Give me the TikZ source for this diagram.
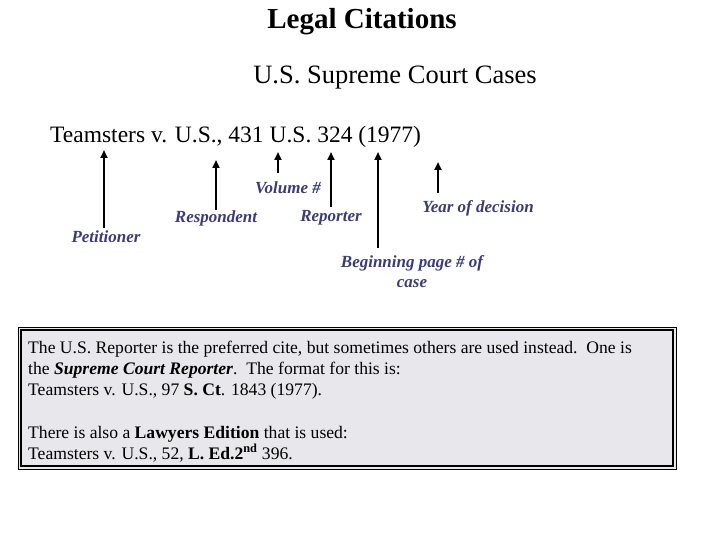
\documentclass[tikz,border=0pt]{standalone}
\usepackage{fontspec}
\setmainfont{Liberation Serif}
\usetikzlibrary{arrows.meta}
\definecolor{lab}{HTML}{3B3A7A}
\definecolor{boxfill}{HTML}{E8E8EC}
\begin{document}
\begin{tikzpicture}[x=1pt,y=-1pt,
  lbl/.style={text=lab,font=\fontsize{17}{18}\selectfont\bfseries\itshape},
  arr/.style={line width=2pt,-{Triangle[width=7pt,length=8pt]}},
  boxline/.style={anchor=base west,font=\fontsize{17.6}{18}\selectfont,inner sep=0pt}]
\useasboundingbox (0,0) rectangle (720,540);
\node (title) at (362,22) {\fontsize{29}{30}\selectfont\bfseries Legal Citations};
\node (sub) at (395,78) {\fontsize{26.5}{30}\selectfont U.S. Supreme Court Cases};
\node[anchor=base west,inner sep=0pt] (cite) at (50,143) {\fontsize{23.5}{25}\selectfont Teamsters v. U.S., 431 U.S. 324 (1977)};
\foreach \n/\x/\a/\b in {pet/104/228/150, res/216/210/160, vol/278/173/152, rep/331/207/152, beg/378/248/152, yr/438/193/162}{
  \coordinate (\n s) at (\x,\a);
  \coordinate (\n e) at (\x,\b);
  \draw[arr] (\n s) -- (\n e);
}
\node[lbl] (vol) at (288,188) {Volume \#};
\node[lbl] (res) at (216,218) {Respondent};
\node[lbl] (rep) at (331,218) {Reporter};
\node[lbl] (yr) at (478,208) {Year of  decision};
\node[lbl] (pet) at (106,237) {Petitioner};
\node[lbl,align=center] (beg) at (412,272) {Beginning page \# of\\[2pt]case};
\draw[line width=0.8pt,fill=boxfill] (18,327) rectangle (676,469);
\draw[line width=1.2pt] (21,330) rectangle (673,466);
\node[boxline] (l1) at (28,353) {The U.S. Reporter is the preferred cite, but sometimes others are used instead.\ \ One is};
\node[boxline] (l2) at (28,374) {the \textbf{\textit{Supreme Court Reporter}}.\ \ The format for this is:};
\node[boxline] (l3) at (28,395) {Teamsters v. U.S., 97 \textbf{S. Ct}. 1843 (1977).};
\node[boxline] (l4) at (28,438) {There is also a \textbf{Lawyers Edition} that is used:};
\node[boxline] (l5) at (28,459) {Teamsters v. U.S., 52, \textbf{L. Ed.2\textsuperscript{nd}} 396.};
\end{tikzpicture}
\end{document}
